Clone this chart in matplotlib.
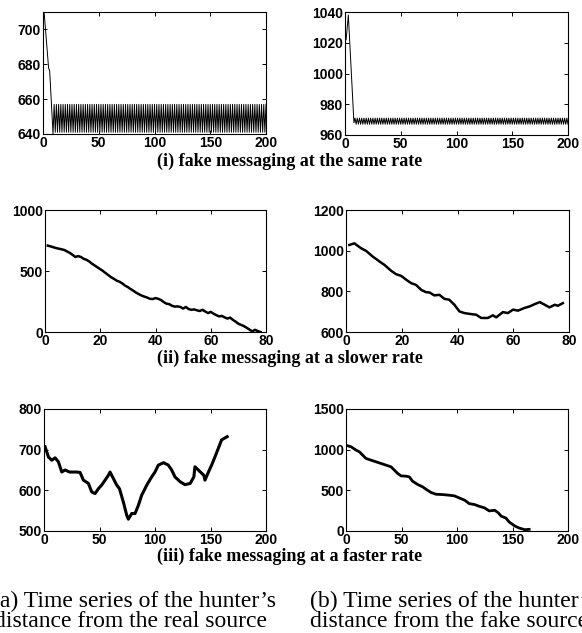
import numpy as np
import matplotlib
matplotlib.use('Agg')
import matplotlib.pyplot as plt

W, H = 582, 633

# (i) same rate
same_real_head_x = [1, 5, 6, 9]
same_real_head_y = [710, 678, 676, 640]
same_real_cycle = [657, 641]
same_fake_head_x = [1, 3, 8]
same_fake_head_y = [1022, 1038, 968]
same_fake_cycle = [971, 967]
same_end = 200

# (ii) slower rate
slow_real_y = [708, 702, 695, 688, 683, 678, 672, 660, 648, 632,
               615, 622, 615, 600, 592, 578, 560, 545, 530, 515,
               500, 482, 465, 448, 435, 420, 412, 398, 380, 368,
               352, 338, 322, 310, 298, 290, 282, 272, 270, 278,
               272, 262, 245, 232, 228, 215, 208, 210, 205, 192,
               205, 188, 182, 185, 178, 172, 182, 168, 155, 165,
               150, 138, 128, 132, 120, 110, 118, 100, 85, 68,
               58, 48, 35, 20, 5, 18, 8, 0]
slow_fake_x = [1.2, 3, 5.4, 7.2, 9.6, 12, 13.8, 16.2, 18, 19.8,
               21.6, 23.4, 25.1, 27, 28.7, 30, 31.7, 33.5, 35.3, 37,
               38.9, 40.7, 42.5, 44.9, 46.7, 48.5, 50.9, 52.7, 53.9, 56.3,
               58.1, 59.9, 61.7, 64, 65.9, 67.7, 69.5, 71.3, 73, 74.9,
               76, 77.8]
slow_fake_y = [1028, 1036, 1012, 999, 971, 947, 930, 901, 884, 876,
               857, 840, 832, 807, 796, 794, 780, 783, 763, 759,
               734, 701, 693, 688, 685, 669, 669, 682, 672, 698,
               693, 710, 705, 718, 726, 737, 747, 734, 721, 734,
               729, 742]

# (iii) faster rate
fast_real_x = [1, 4, 7, 10, 13, 16, 19, 23, 29, 32.5,
               35.5, 40, 43, 46, 49, 52, 55, 58, 59.5, 62.5,
               65.5, 68, 71.5, 74.5, 76, 79, 82, 85, 88, 92.6,
               97, 100, 103, 107.7, 112, 115, 118, 122.7, 127, 131.7,
               135, 136, 139, 144, 145, 148, 151, 154, 157, 160, 165]
fast_real_y = [707, 682, 674, 680, 670, 645, 650, 645, 645, 644,
               625, 617, 596, 592, 604, 613, 625, 637, 645, 629,
               613, 604, 571, 539, 529, 543, 543, 563, 588, 613,
               633, 645, 662, 668, 662, 650, 633, 621, 614, 617,
               633, 658, 650, 637, 625, 644, 662, 682, 703, 724, 732]
fast_fake_x = [1.5, 4.5, 9, 12, 15, 18, 22.5, 27, 31.6, 36,
               40.6, 43.6, 46.6, 49.6, 54, 57, 60, 64.7, 69, 72,
               76.7, 81, 87, 93, 97.7, 102, 107, 111, 115.8, 120,
               124.8, 129, 134, 137, 140, 144, 147, 152, 156, 161, 165]
fast_fake_y = [1048, 1036, 995, 974, 933, 892, 871, 851, 830, 810,
               789, 748, 707, 678, 674, 666, 612, 571, 543, 514,
               473, 452, 448, 440, 432, 407, 378, 337, 325, 304,
               284, 247, 255, 226, 181, 160, 111, 62, 37, 16, 20]

captions = ['(i) fake messaging at the same rate',
            '(ii) fake messaging at a slower rate',
            '(iii) fake messaging at a faster rate']
sub_a = ['(a) Time series of the hunter\u2019s', 'distance from the real source']
sub_b = ['(b) Time series of the hunter\u2019s', 'distance from the fake source']


def add_axes_px(fig, x0, y0, x1, y1):
    return fig.add_axes([x0 / W, 1 - y1 / H, (x1 - x0) / W, (y1 - y0) / H])


def style_axes(ax, xlim, xticks, ylim, yticks):
    ax.set_xlim(*xlim)
    ax.set_ylim(*ylim)
    ax.set_xticks(xticks)
    ax.set_yticks(yticks)
    ax.tick_params(direction='in', length=3, width=0.7, top=True, right=True,
                   labelsize=10, pad=1.5)
    for lab in ax.get_xticklabels() + ax.get_yticklabels():
        lab.set_fontweight('bold')
        lab.set_family('Liberation Sans')
    for sp in ax.spines.values():
        sp.set_linewidth(0.8)


def cycle_series(head_x, head_y, cycle, end):
    tail_x = np.arange(head_x[-1] + 1, end + 1)
    tail_y = np.resize(cycle, len(tail_x))
    return np.concatenate([head_x, tail_x]), np.concatenate([head_y, tail_y])


fig = plt.figure(figsize=(W / 100, H / 100), dpi=100)

ax = add_axes_px(fig, 43, 12, 266, 134)
x, y = cycle_series(same_real_head_x, same_real_head_y, same_real_cycle, same_end)
ax.plot(x, y, color='k', lw=0.7)
style_axes(ax, (0, 200), [0, 50, 100, 150, 200], (640, 710), [640, 660, 680, 700])

ax = add_axes_px(fig, 345, 12, 568, 135)
x, y = cycle_series(same_fake_head_x, same_fake_head_y, same_fake_cycle, same_end)
ax.plot(x, y, color='k', lw=0.7)
style_axes(ax, (0, 200), [0, 50, 100, 150, 200], (960, 1040), [960, 980, 1000, 1020, 1040])

ax = add_axes_px(fig, 45, 210, 266, 332)
ax.plot(np.arange(1, len(slow_real_y) + 1), slow_real_y, color='k', lw=1.8)
style_axes(ax, (0, 80), [0, 20, 40, 60, 80], (0, 1000), [0, 500, 1000])

ax = add_axes_px(fig, 346, 210, 569, 332)
ax.plot(slow_fake_x, slow_fake_y, color='k', lw=1.8)
style_axes(ax, (0, 80), [0, 20, 40, 60, 80], (600, 1200), [600, 800, 1000, 1200])

ax = add_axes_px(fig, 44, 409, 266, 531)
ax.plot(fast_real_x, fast_real_y, color='k', lw=2.2)
style_axes(ax, (0, 200), [0, 50, 100, 150, 200], (500, 800), [500, 600, 700, 800])

ax = add_axes_px(fig, 346, 409, 568, 531)
ax.plot(fast_fake_x, fast_fake_y, color='k', lw=2.0)
style_axes(ax, (0, 200), [0, 50, 100, 150, 200], (0, 1500), [0, 500, 1000, 1500])

for cap, yc in zip(captions, [161, 358, 556]):
    fig.text(290 / W, 1 - yc / H, cap, ha='center', va='center',
             family='Liberation Serif', fontweight='bold', fontsize=13)

for i, line in enumerate(sub_a):
    fig.text([-8, -6][i] / W, 1 - [607, 627][i] / H, line, ha='left', va='baseline',
             family='Liberation Serif', fontsize=17)
for i, line in enumerate(sub_b):
    fig.text(310 / W, 1 - [607, 627][i] / H, line, ha='left', va='baseline',
             family='Liberation Serif', fontsize=17)

fig.savefig('out.png', dpi=100)
